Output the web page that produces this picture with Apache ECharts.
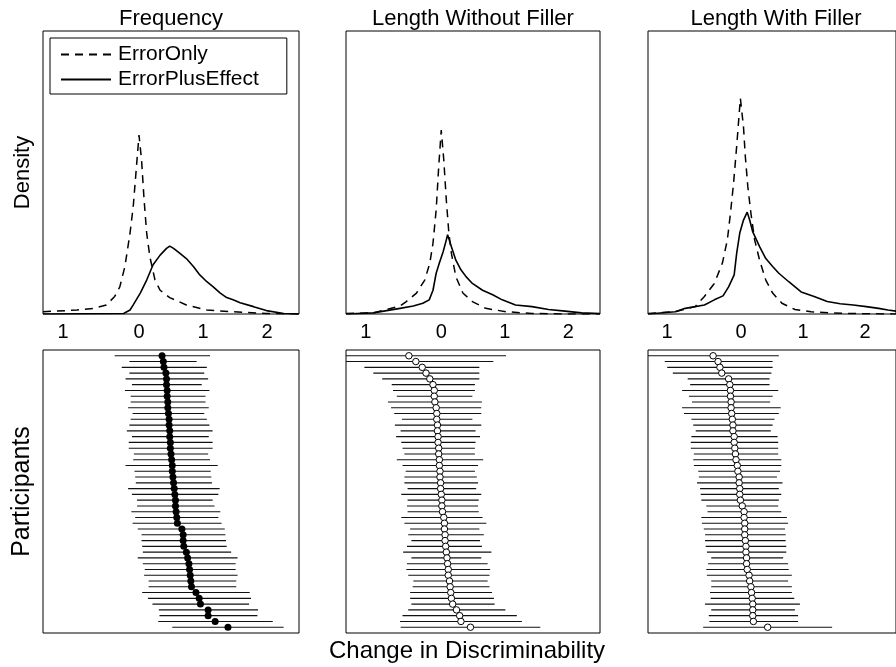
<!DOCTYPE html>
<html>
<head>
<meta charset="utf-8">
<script src="https://cdn.jsdelivr.net/npm/echarts@6/dist/echarts.min.js"></script>
<style>
  html, body { margin: 0; padding: 0; background: #fff; }
  #main { width: 896px; height: 667px; }
</style>
</head>
<body>
<div id="main"></div>
<script>
// 数据: 刻度、标题
var xTicks = [-1, 0, 1, 2];
var panelTitles = ['Frequency', 'Length Without Filler', 'Length With Filler'];

// 上排密度曲线 [x, density]
var freqErrorOnly = [[-1.5,0.04],[-0.97,0.07],[-0.71,0.10],[-0.51,0.16],[-0.38,0.31],[-0.30,0.48],[-0.22,0.84],[-0.14,1.43],[-0.09,1.90],[-0.04,2.60],[0.00,3.16],[0.04,2.72],[0.08,2.01],[0.12,1.43],[0.17,1.01],[0.25,0.60],[0.33,0.42],[0.48,0.29],[0.74,0.16],[1.06,0.07],[1.47,0.04],[1.99,0.01],[2.5,0.00]];
var freqErrorPlusEffect = [[-1.5,0],[-0.24,0.01],[-0.14,0.07],[-0.09,0.16],[0.02,0.37],[0.12,0.60],[0.22,0.87],[0.33,1.04],[0.43,1.16],[0.48,1.20],[0.54,1.16],[0.64,1.07],[0.74,0.98],[0.85,0.84],[0.95,0.69],[1.06,0.57],[1.16,0.48],[1.27,0.37],[1.37,0.29],[1.47,0.25],[1.58,0.20],[1.79,0.13],[1.99,0.06],[2.26,0.01],[2.5,0]];
var lwoErrorOnly = [[-1.5,0.01],[-1.07,0.02],[-0.65,0.14],[-0.55,0.22],[-0.39,0.37],[-0.26,0.60],[-0.18,0.90],[-0.13,1.25],[-0.08,1.84],[-0.04,2.60],[0.00,3.25],[0.04,2.72],[0.08,2.01],[0.12,1.43],[0.16,1.07],[0.23,0.66],[0.34,0.37],[0.49,0.22],[0.70,0.10],[1.02,0.04],[1.43,0.01],[1.95,0],[2.5,0]];
var lwoErrorPlusEffect = [[-1.5,0],[-1.07,0.02],[-0.65,0.10],[-0.44,0.14],[-0.29,0.19],[-0.19,0.25],[-0.13,0.42],[-0.08,0.72],[-0.03,0.90],[0.03,1.10],[0.08,1.31],[0.10,1.40],[0.16,1.19],[0.23,0.95],[0.31,0.78],[0.39,0.66],[0.49,0.54],[0.65,0.42],[0.81,0.34],[0.96,0.25],[1.17,0.16],[1.43,0.13],[1.69,0.08],[1.95,0.05],[2.21,0.02],[2.5,0.01]];
var lwfErrorOnly = [[-1.5,0.01],[-1.06,0.04],[-0.74,0.13],[-0.59,0.31],[-0.43,0.54],[-0.30,0.90],[-0.22,1.31],[-0.17,1.78],[-0.12,2.31],[-0.07,2.96],[-0.01,3.81],[0.04,3.31],[0.07,2.78],[0.11,2.25],[0.16,1.78],[0.22,1.31],[0.30,0.95],[0.40,0.60],[0.51,0.37],[0.66,0.19],[0.87,0.08],[1.13,0.04],[1.65,0.01],[2.37,0],[2.5,0]];
var lwfErrorPlusEffect = [[-1.5,0],[-1.06,0.04],[-0.90,0.10],[-0.59,0.16],[-0.43,0.25],[-0.29,0.32],[-0.20,0.48],[-0.11,0.69],[-0.07,1.07],[-0.02,1.43],[0.04,1.66],[0.10,1.80],[0.14,1.66],[0.19,1.45],[0.30,1.19],[0.40,0.98],[0.51,0.84],[0.61,0.72],[0.77,0.57],[0.97,0.39],[1.18,0.31],[1.39,0.22],[1.60,0.18],[1.81,0.16],[2.02,0.13],[2.22,0.10],[2.37,0.07],[2.5,0.05]];

// 下排: 每个被试的估计值和区间 (从上到下)
var freqEst = [0.36,0.38,0.39,0.42,0.43,0.43,0.44,0.44,0.45,0.45,0.46,0.47,0.47,0.48,0.48,0.49,0.49,0.50,0.51,0.52,0.52,0.53,0.54,0.55,0.56,0.57,0.57,0.58,0.59,0.60,0.67,0.69,0.69,0.70,0.74,0.76,0.78,0.79,0.80,0.81,0.82,0.89,0.94,0.96,1.08,1.08,1.19,1.39];
var freqLow = [-0.38,-0.15,-0.27,-0.15,-0.21,-0.11,-0.22,-0.13,-0.13,-0.17,-0.10,-0.13,-0.15,-0.19,-0.11,-0.16,-0.16,-0.08,-0.09,-0.21,-0.07,-0.06,-0.05,-0.17,-0.11,-0.03,-0.03,-0.12,-0.06,-0.10,-0.02,0.04,0.04,0.05,0.06,-0.02,0.06,0.09,0.08,0.15,0.15,0.05,0.14,0.21,0.31,0.32,0.30,0.52];
var freqHigh = [1.11,0.90,1.06,1.02,1.08,0.98,1.10,1.04,1.04,1.09,1.02,1.06,1.10,1.15,1.09,1.15,1.15,1.08,1.11,1.23,1.12,1.13,1.14,1.26,1.24,1.15,1.18,1.27,1.24,1.29,1.34,1.35,1.36,1.37,1.44,1.54,1.51,1.51,1.54,1.52,1.52,1.73,1.75,1.72,1.86,1.85,2.09,2.26];

var lwoEst = [-0.51,-0.40,-0.30,-0.24,-0.18,-0.13,-0.11,-0.11,-0.10,-0.08,-0.07,-0.07,-0.06,-0.06,-0.05,-0.05,-0.04,-0.04,-0.03,-0.03,-0.02,-0.02,-0.01,-0.01,0.00,0.01,0.01,0.02,0.04,0.05,0.05,0.06,0.06,0.07,0.08,0.09,0.10,0.11,0.11,0.13,0.14,0.15,0.16,0.18,0.24,0.29,0.31,0.46];
var lwoLow = [-1.55,-1.55,-1.21,-1.07,-0.93,-0.78,-0.76,-0.70,-0.84,-0.79,-0.74,-0.62,-0.73,-0.64,-0.71,-0.63,-0.61,-0.58,-0.70,-0.61,-0.56,-0.58,-0.58,-0.53,-0.63,-0.53,-0.54,-0.53,-0.63,-0.58,-0.49,-0.52,-0.47,-0.54,-0.60,-0.47,-0.54,-0.55,-0.52,-0.44,-0.45,-0.49,-0.49,-0.47,-0.52,-0.61,-0.65,-0.64];
var lwoHigh = [1.02,0.82,0.60,0.60,0.60,0.53,0.53,0.49,0.64,0.63,0.63,0.49,0.63,0.54,0.61,0.54,0.53,0.53,0.66,0.58,0.53,0.56,0.58,0.55,0.63,0.59,0.58,0.59,0.65,0.71,0.60,0.67,0.61,0.64,0.79,0.63,0.73,0.77,0.76,0.73,0.76,0.80,0.83,0.84,1.01,1.19,1.27,1.56];

var lwfEst = [-0.45,-0.37,-0.34,-0.31,-0.20,-0.18,-0.17,-0.17,-0.16,-0.16,-0.15,-0.14,-0.13,-0.13,-0.11,-0.11,-0.10,-0.09,-0.08,-0.06,-0.05,-0.03,-0.03,-0.02,-0.02,-0.01,0.02,0.05,0.05,0.06,0.06,0.06,0.07,0.08,0.08,0.09,0.09,0.10,0.13,0.14,0.16,0.17,0.18,0.19,0.19,0.19,0.20,0.43];
var lwfLow = [-1.55,-1.23,-1.19,-1.10,-0.86,-0.82,-0.95,-0.84,-0.79,-0.95,-0.92,-0.80,-0.77,-0.73,-0.80,-0.81,-0.81,-0.76,-0.77,-0.76,-0.69,-0.68,-0.71,-0.66,-0.65,-0.64,-0.56,-0.54,-0.64,-0.63,-0.60,-0.58,-0.58,-0.57,-0.55,-0.48,-0.53,-0.56,-0.55,-0.48,-0.48,-0.50,-0.49,-0.58,-0.48,-0.52,-0.51,-0.61];
var lwfHigh = [0.61,0.51,0.51,0.49,0.46,0.46,0.60,0.51,0.47,0.64,0.61,0.54,0.51,0.48,0.59,0.60,0.60,0.60,0.65,0.65,0.63,0.58,0.67,0.61,0.65,0.61,0.60,0.65,0.74,0.76,0.71,0.72,0.72,0.73,0.73,0.68,0.76,0.77,0.82,0.76,0.82,0.82,0.86,0.95,0.87,0.92,0.92,1.47];

var FONT = '"Liberation Sans", Arial, Helvetica, sans-serif';
var chart = echarts.init(document.getElementById('main'));

var lefts = [43, 346, 648];
var widths = [256, 254, 256];
var densities = [
    [freqErrorOnly, freqErrorPlusEffect],
    [lwoErrorOnly, lwoErrorPlusEffect],
    [lwfErrorOnly, lwfErrorPlusEffect]
];
var forests = [
    [freqEst, freqLow, freqHigh],
    [lwoEst, lwoLow, lwoHigh],
    [lwfEst, lwfLow, lwfHigh]
];

var grids = [], xAxes = [], yAxes = [], series = [], titles = [];

for (var k = 0; k < 3; k++) {
    // 上排
    grids.push({ left: lefts[k], top: 31, width: widths[k], height: 283,
        show: true, borderColor: '#000', borderWidth: 1 });
    // 下排
    grids.push({ left: lefts[k], top: 350, width: widths[k], height: 283,
        show: true, borderColor: '#000', borderWidth: 1 });

    titles.push({
        text: panelTitles[k], left: lefts[k] + widths[k] / 2, top: 8, textAlign: 'center', padding: 0,
        textStyle: { fontFamily: FONT, fontSize: 22, fontWeight: 'normal', color: '#000' }
    });

    xAxes.push({
        gridIndex: 2 * k, type: 'value', min: -1.5, max: 2.5,
        axisLine: { show: false }, axisTick: { show: false }, splitLine: { show: false },
        axisLabel: {
            customValues: xTicks, margin: 8, color: '#000', fontFamily: FONT, fontSize: 20,
            formatter: function (v) { return v === -1 ? '{neg|1}' : String(v); },
            rich: { neg: { padding: [0, 24, 0, 0], fontFamily: FONT, fontSize: 20, color: '#000' } }
        }
    });
    xAxes.push({
        gridIndex: 2 * k + 1, type: 'value', min: -1.5, max: 2.5,
        axisLine: { show: false }, axisTick: { show: false }, splitLine: { show: false },
        axisLabel: { show: false },
        name: k === 1 ? 'Change in Discriminability' : '',
        nameLocation: 'middle', nameGap: 6,
        nameTextStyle: { fontFamily: FONT, fontSize: 24, color: '#000', padding: [0, 12, 0, 0] }
    });

    yAxes.push({
        gridIndex: 2 * k, type: 'value', min: 0, max: 5,
        axisLine: { show: false }, axisTick: { show: false }, axisLabel: { show: false }, splitLine: { show: false },
        name: k === 0 ? 'Density' : '', nameLocation: 'middle', nameGap: 9,
        nameTextStyle: { fontFamily: FONT, fontSize: 22, color: '#000' }
    });
    yAxes.push({
        gridIndex: 2 * k + 1, type: 'value', min: 0, max: 49, inverse: true,
        axisLine: { show: false }, axisTick: { show: false }, axisLabel: { show: false }, splitLine: { show: false },
        name: k === 0 ? 'Participants' : '', nameLocation: 'middle', nameGap: 8,
        nameTextStyle: { fontFamily: FONT, fontSize: 25, color: '#000' }
    });

    // 密度曲线
    series.push({
        name: 'ErrorOnly', type: 'line', xAxisIndex: 2 * k, yAxisIndex: 2 * k,
        data: densities[k][0], symbol: 'none', silent: true,
        itemStyle: { color: '#000' },
        lineStyle: { color: '#000', width: 1.5, type: [8, 6] }
    });
    series.push({
        name: 'ErrorPlusEffect', type: 'line', xAxisIndex: 2 * k, yAxisIndex: 2 * k,
        data: densities[k][1], symbol: 'none', silent: true,
        itemStyle: { color: '#000' },
        lineStyle: { color: '#000', width: 1.6 }
    });

    // 区间线
    var est = forests[k][0], low = forests[k][1], high = forests[k][2];
    series.push({
        type: 'custom', xAxisIndex: 2 * k + 1, yAxisIndex: 2 * k + 1, silent: true,
        encode: { x: [1, 2], y: 0 },
        data: est.map(function (v, i) { return [i + 1, low[i], high[i]]; }),
        renderItem: function (params, api) {
            var p1 = api.coord([api.value(1), api.value(0)]);
            var p2 = api.coord([api.value(2), api.value(0)]);
            var cs = params.coordSys;
            return {
                type: 'line',
                shape: { x1: Math.max(p1[0], cs.x), y1: p1[1], x2: Math.min(p2[0], cs.x + cs.width), y2: p2[1] },
                style: { stroke: '#111', lineWidth: 1.1 }
            };
        }
    });
    // 点估计
    series.push({
        type: 'scatter', xAxisIndex: 2 * k + 1, yAxisIndex: 2 * k + 1, silent: true,
        data: est.map(function (v, i) { return [v, i + 1]; }),
        symbol: 'circle', symbolSize: k === 0 ? 7 : 6.5,
        itemStyle: k === 0 ? { color: '#000', opacity: 1 } : { color: '#fff', borderColor: '#000', borderWidth: 1, opacity: 1 },
        z: 3
    });
}

var option = {
    backgroundColor: '#fff',
    animation: false,
    title: titles,
    legend: {
        data: ['ErrorOnly', 'ErrorPlusEffect'],
        orient: 'vertical', left: 50, top: 38,
        itemWidth: 50, itemHeight: 14, itemGap: 4,
        padding: [6, 28, 4, 10],
        borderColor: '#000', borderWidth: 1, borderRadius: 0,
        selectedMode: false,
        itemStyle: { color: 'rgba(0,0,0,0)', borderColor: 'rgba(0,0,0,0)', borderWidth: 0, opacity: 0 },
        textStyle: { fontFamily: FONT, fontSize: 21, color: '#000', padding: [0, 0, 0, 2] }
    },
    grid: grids,
    xAxis: xAxes,
    yAxis: yAxes,
    series: series
};

chart.setOption(option);
</script>
</body>
</html>
